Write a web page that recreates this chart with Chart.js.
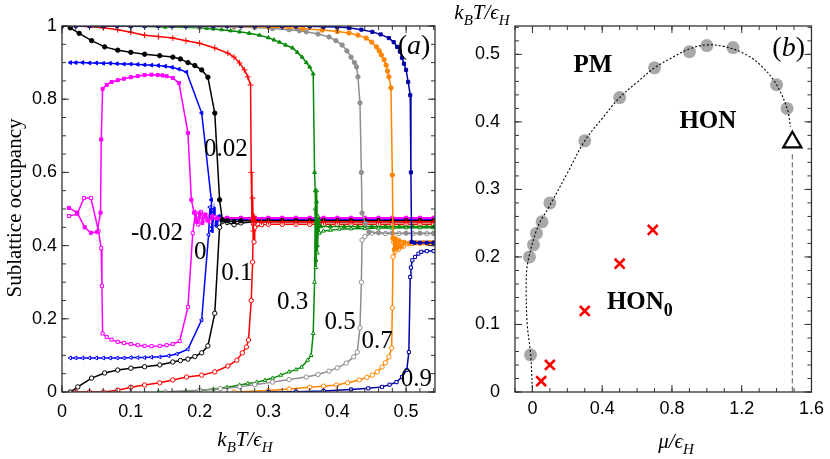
<!DOCTYPE html>
<html>
<head>
<meta charset="utf-8">
<script src="https://cdn.jsdelivr.net/npm/chart.js@4.4.0/dist/chart.umd.min.js"></script>
<style>
  body { margin: 0; background: #fff; }
  #wrap { position: relative; width: 830px; height: 459px; }
  canvas { position: absolute; top: 0; }
</style>
</head>
<body>
<div id="wrap">
  <canvas id="chartA" width="440" height="459" style="left:0"></canvas>
  <canvas id="chartB" width="390" height="459" style="left:440px"></canvas>
</div>
<script>
// ---- panel (a): sublattice occupancy vs k_BT/eps_H, pairs are [T, occupancy]
const magentaUp = [[0.01,0.503],[0.022,0.49],[0.033,0.45],[0.042,0.435],[0.051,0.437],[0.056,0.49],[0.057,0.69],[0.059,0.828],[0.065,0.839],[0.072,0.847],[0.081,0.852],[0.09,0.856],[0.1,0.86],[0.11,0.863],[0.12,0.866],[0.13,0.867],[0.139,0.866],[0.146,0.865],[0.152,0.863],[0.161,0.858],[0.17,0.844],[0.183,0.708],[0.188,0.525],[0.192,0.49],[0.196,0.465],[0.2,0.488],[0.204,0.462],[0.208,0.485],[0.212,0.468],[0.218,0.48],[0.225,0.474],[0.24,0.476],[0.26,0.476],[0.28,0.476],[0.3,0.476],[0.32,0.476],[0.34,0.476],[0.36,0.476],[0.38,0.476],[0.4,0.476],[0.42,0.476],[0.44,0.476],[0.46,0.476],[0.48,0.476],[0.5,0.476],[0.52,0.476],[0.54,0.476]];
const magentaLow = [[0.01,0.481],[0.022,0.486],[0.032,0.53],[0.042,0.53],[0.053,0.44],[0.057,0.393],[0.058,0.29],[0.059,0.16],[0.065,0.15],[0.072,0.143],[0.081,0.137],[0.09,0.134],[0.1,0.131],[0.11,0.128],[0.12,0.126],[0.13,0.125],[0.142,0.126],[0.152,0.128],[0.161,0.131],[0.171,0.139],[0.183,0.232],[0.19,0.434],[0.194,0.49],[0.198,0.458],[0.202,0.492],[0.206,0.47],[0.21,0.482],[0.215,0.466],[0.222,0.478],[0.24,0.474],[0.26,0.474],[0.28,0.474],[0.3,0.474],[0.32,0.474],[0.34,0.474],[0.36,0.474],[0.38,0.474],[0.4,0.474],[0.42,0.474],[0.44,0.474],[0.46,0.474],[0.48,0.474],[0.5,0.474],[0.52,0.474],[0.54,0.474]];

const blueUp = [[0.012,0.9],[0.02,0.9],[0.03,0.9],[0.04,0.899],[0.05,0.899],[0.06,0.898],[0.07,0.898],[0.08,0.897],[0.09,0.896],[0.1,0.896],[0.11,0.895],[0.12,0.894],[0.13,0.893],[0.14,0.892],[0.15,0.89],[0.16,0.887],[0.17,0.882],[0.181,0.874],[0.203,0.762],[0.217,0.525],[0.218,0.44],[0.221,0.5],[0.224,0.455],[0.228,0.48],[0.232,0.47],[0.24,0.473],[0.26,0.473],[0.28,0.473],[0.3,0.473],[0.32,0.473],[0.34,0.473],[0.36,0.473],[0.38,0.473],[0.4,0.473],[0.42,0.473],[0.44,0.473],[0.46,0.473],[0.48,0.473],[0.5,0.473],[0.52,0.473],[0.54,0.473]];
const blueLow = [[0.012,0.093],[0.02,0.093],[0.03,0.093],[0.04,0.093],[0.05,0.093],[0.06,0.093],[0.07,0.093],[0.08,0.093],[0.09,0.093],[0.1,0.094],[0.11,0.094],[0.12,0.094],[0.13,0.095],[0.142,0.096],[0.155,0.099],[0.167,0.104],[0.183,0.117],[0.203,0.197],[0.213,0.43],[0.215,0.505],[0.218,0.45],[0.221,0.492],[0.225,0.462],[0.229,0.478],[0.235,0.47],[0.24,0.472],[0.26,0.472],[0.28,0.472],[0.3,0.472],[0.32,0.472],[0.34,0.472],[0.36,0.472],[0.38,0.472],[0.4,0.472],[0.42,0.472],[0.44,0.472],[0.46,0.472],[0.48,0.472],[0.5,0.472],[0.52,0.472],[0.54,0.472]];

const blackUp = [[0.012,0.995],[0.025,0.98],[0.043,0.96],[0.062,0.943],[0.081,0.934],[0.1,0.928],[0.12,0.923],[0.142,0.919],[0.161,0.915],[0.172,0.91],[0.183,0.9],[0.193,0.892],[0.203,0.88],[0.212,0.86],[0.222,0.762],[0.229,0.525],[0.233,0.47],[0.24,0.468],[0.25,0.466],[0.26,0.468],[0.28,0.468],[0.3,0.468],[0.32,0.468],[0.34,0.468],[0.36,0.468],[0.38,0.468],[0.4,0.468],[0.42,0.468],[0.44,0.468],[0.46,0.468],[0.48,0.468],[0.5,0.468],[0.52,0.468],[0.54,0.468]];
const blackLow = [[0.012,0],[0.023,0.014],[0.043,0.038],[0.062,0.052],[0.081,0.06],[0.1,0.065],[0.12,0.069],[0.142,0.074],[0.161,0.082],[0.172,0.086],[0.183,0.09],[0.193,0.097],[0.203,0.107],[0.212,0.126],[0.222,0.215],[0.229,0.45],[0.233,0.466],[0.24,0.463],[0.25,0.457],[0.26,0.462],[0.28,0.465],[0.3,0.465],[0.32,0.465],[0.34,0.465],[0.36,0.465],[0.38,0.465],[0.4,0.465],[0.42,0.465],[0.44,0.465],[0.46,0.465],[0.48,0.465],[0.5,0.465],[0.52,0.465],[0.54,0.465]];

const redUp = [[0,1],[0.02,1],[0.04,0.998],[0.06,0.995],[0.081,0.99],[0.1,0.983],[0.12,0.975],[0.14,0.971],[0.161,0.967],[0.18,0.96],[0.2,0.953],[0.222,0.94],[0.241,0.926],[0.25,0.915],[0.258,0.899],[0.265,0.88],[0.27,0.861],[0.274,0.839],[0.275,0.6],[0.276,0.47],[0.277,0.53],[0.278,0.44],[0.279,0.48],[0.282,0.465],[0.29,0.465],[0.3,0.465],[0.32,0.465],[0.34,0.465],[0.36,0.465],[0.38,0.465],[0.4,0.465],[0.42,0.465],[0.44,0.465],[0.46,0.465],[0.48,0.465],[0.5,0.465],[0.52,0.465],[0.54,0.465]];
const redLow = [[0.02,0],[0.04,0],[0.06,0],[0.081,0.005],[0.1,0.013],[0.12,0.019],[0.142,0.025],[0.161,0.033],[0.181,0.041],[0.203,0.046],[0.222,0.055],[0.241,0.071],[0.254,0.087],[0.262,0.107],[0.268,0.123],[0.271,0.142],[0.275,0.25],[0.277,0.355],[0.278,0.46],[0.279,0.41],[0.28,0.45],[0.29,0.457],[0.3,0.458],[0.32,0.458],[0.34,0.458],[0.36,0.458],[0.38,0.458],[0.4,0.458],[0.42,0.458],[0.44,0.458],[0.46,0.458],[0.48,0.458],[0.5,0.458],[0.52,0.458],[0.54,0.458]];

const greenUp = [[0,1],[0.05,1],[0.1,0.999],[0.15,0.997],[0.2,0.995],[0.21,0.994],[0.22,0.992],[0.232,0.99],[0.245,0.987],[0.258,0.984],[0.272,0.98],[0.287,0.975],[0.3,0.968],[0.308,0.962],[0.316,0.956],[0.325,0.948],[0.335,0.94],[0.342,0.928],[0.349,0.915],[0.355,0.9],[0.36,0.888],[0.365,0.869],[0.367,0.6],[0.368,0.55],[0.369,0.36],[0.37,0.52],[0.371,0.4],[0.373,0.47],[0.376,0.452],[0.39,0.452],[0.41,0.452],[0.43,0.452],[0.45,0.452],[0.47,0.452],[0.49,0.452],[0.51,0.452],[0.53,0.452],[0.54,0.452]];
const greenLow = [[0.14,0],[0.18,0.002],[0.2,0.004],[0.22,0.008],[0.24,0.013],[0.258,0.019],[0.27,0.023],[0.283,0.027],[0.295,0.032],[0.306,0.038],[0.318,0.046],[0.33,0.055],[0.34,0.061],[0.348,0.068],[0.357,0.087],[0.362,0.1],[0.365,0.16],[0.367,0.3],[0.368,0.5],[0.369,0.34],[0.37,0.55],[0.371,0.38],[0.372,0.48],[0.374,0.434],[0.38,0.44],[0.39,0.442],[0.403,0.445],[0.42,0.446],[0.44,0.447],[0.46,0.448],[0.48,0.448],[0.5,0.449],[0.52,0.449],[0.54,0.449]];

const grayUp = [[0,1],[0.1,1],[0.2,0.998],[0.25,0.997],[0.28,0.996],[0.306,0.993],[0.33,0.99],[0.345,0.987],[0.355,0.984],[0.372,0.978],[0.388,0.97],[0.398,0.96],[0.407,0.948],[0.414,0.932],[0.42,0.915],[0.425,0.9],[0.428,0.888],[0.43,0.861],[0.433,0.79],[0.435,0.6],[0.436,0.489],[0.441,0.46],[0.446,0.437],[0.46,0.435],[0.48,0.434],[0.5,0.434],[0.52,0.434],[0.54,0.434]];
const grayLow = [[0.15,0],[0.2,0.005],[0.23,0.009],[0.258,0.014],[0.28,0.02],[0.306,0.027],[0.33,0.034],[0.355,0.041],[0.372,0.048],[0.388,0.057],[0.4,0.066],[0.413,0.079],[0.424,0.096],[0.429,0.109],[0.433,0.175],[0.435,0.3],[0.436,0.415],[0.44,0.425],[0.45,0.434],[0.47,0.433],[0.49,0.433],[0.51,0.433],[0.53,0.433],[0.54,0.433]];

const orangeUp = [[0,1],[0.2,1],[0.3,0.997],[0.35,0.993],[0.378,0.989],[0.4,0.985],[0.417,0.981],[0.43,0.975],[0.442,0.967],[0.45,0.956],[0.457,0.943],[0.461,0.932],[0.464,0.921],[0.468,0.908],[0.471,0.893],[0.473,0.877],[0.475,0.861],[0.478,0.831],[0.48,0.593],[0.481,0.42],[0.483,0.39],[0.485,0.418],[0.487,0.393],[0.49,0.413],[0.493,0.398],[0.497,0.409],[0.505,0.406],[0.515,0.408],[0.525,0.408],[0.535,0.408],[0.54,0.408]];
const orangeLow = [[0.25,0],[0.3,0.004],[0.33,0.008],[0.36,0.013],[0.38,0.016],[0.399,0.019],[0.415,0.025],[0.432,0.033],[0.443,0.04],[0.451,0.046],[0.458,0.055],[0.465,0.068],[0.47,0.08],[0.475,0.096],[0.479,0.12],[0.48,0.23],[0.481,0.369],[0.482,0.41],[0.484,0.383],[0.486,0.412],[0.489,0.39],[0.492,0.408],[0.496,0.398],[0.502,0.405],[0.51,0.406],[0.52,0.406],[0.53,0.406],[0.54,0.406]];

const navyUp = [[0,1],[0.02,1],[0.04,1],[0.06,1],[0.08,1],[0.1,1],[0.12,1],[0.14,1],[0.16,1],[0.18,1],[0.2,1],[0.22,1],[0.24,1],[0.26,1],[0.28,1],[0.3,1],[0.32,0.999],[0.34,0.999],[0.36,0.999],[0.38,0.998],[0.4,0.997],[0.417,0.995],[0.435,0.99],[0.451,0.984],[0.463,0.977],[0.475,0.967],[0.482,0.956],[0.487,0.943],[0.491,0.93],[0.494,0.913],[0.497,0.897],[0.5,0.88],[0.503,0.847],[0.506,0.811],[0.507,0.6],[0.508,0.41],[0.512,0.408],[0.52,0.408],[0.53,0.408],[0.54,0.408]];
const navyLow = [[0.3,0],[0.34,0.001],[0.38,0.003],[0.42,0.007],[0.445,0.01],[0.465,0.014],[0.476,0.02],[0.486,0.027],[0.494,0.041],[0.501,0.06],[0.504,0.109],[0.506,0.314],[0.507,0.34],[0.509,0.36],[0.513,0.369],[0.518,0.378],[0.522,0.383],[0.53,0.385],[0.54,0.385]];

const xTicksA = [0, 0.1, 0.2, 0.3, 0.4, 0.5];
const yTicksA = [0, 0.2, 0.4, 0.6, 0.8, 1];
const curveLabelsA = [
  { text: '0.02', x: 0.238, y: 0.664 },
  { text: '-0.02', x: 0.138, y: 0.434 },
  { text: '0', x: 0.201, y: 0.38 },
  { text: '0.1', x: 0.254, y: 0.325 },
  { text: '0.3', x: 0.335, y: 0.246 },
  { text: '0.5', x: 0.404, y: 0.191 },
  { text: '0.7', x: 0.458, y: 0.139 },
  { text: '0.9', x: 0.515, y: 0.033 }
];

// ---- panel (b): phase diagram, mu/eps_H vs k_BT/eps_H
const boundaryMu = [0, -0.01, -0.03, -0.036, -0.033, -0.02, 0.017, 0.05, 0.086, 0.2, 0.3, 0.406, 0.5, 0.606, 0.7, 0.806, 0.9, 1.0, 1.11, 1.23, 1.32, 1.4, 1.46, 1.48];
const boundaryT = [0, 0.055, 0.1, 0.15, 0.18, 0.2, 0.235, 0.255, 0.27, 0.324, 0.372, 0.407, 0.436, 0.46, 0.48, 0.496, 0.508, 0.514, 0.511, 0.499, 0.481, 0.455, 0.42, 0.393];
const circleMu = [-0.011, -0.017, 0.006, 0.023, 0.055, 0.1, 0.3, 0.5, 0.7, 0.9, 1.0, 1.15, 1.4, 1.46];
const circleT = [0.055, 0.2, 0.218, 0.235, 0.252, 0.28, 0.372, 0.436, 0.48, 0.504, 0.513, 0.51, 0.455, 0.42];
const crossMu = [0.05, 0.1, 0.3, 0.5, 0.69];
const crossT = [0.016, 0.04, 0.12, 0.19, 0.24];
const triangleMu = [1.49];
const triangleT = [0.37];
const verticalMu = [1.49, 1.49];
const verticalT = [0.352, 0];
const xTicksB = [0, 0.4, 0.8, 1.2, 1.6];
const yTicksB = [0, 0.1, 0.2, 0.3, 0.4, 0.5];
const phaseLabelsB = [
  { text: 'PM', x: 0.347, y: 0.483 },
  { text: 'HON', x: 1.006, y: 0.4 },
  { text: 'HON', sub: '0', x: 0.616, y: 0.133 }
];

const SERIF = '"Liberation Serif", "DejaVu Serif", serif';
const SANS = '"Liberation Sans", Arial, sans-serif';

const toXY = (pairs) => pairs.map(([x, y]) => ({ x, y }));
const zipXY = (xs, ys) => xs.map((x, i) => ({ x, y: ys[i] }));

function branch(pairs, color, style, filled, extra) {
  return Object.assign({
    data: toXY(pairs),
    showLine: true,
    borderColor: color,
    backgroundColor: color,
    borderWidth: 1.5,
    pointStyle: style,
    pointRadius: 2.2,
    pointBorderWidth: 1,
    pointBorderColor: color,
    pointBackgroundColor: filled ? color : '#ffffff',
    tension: 0
  }, extra || {});
}

// inward ticks on all four sides plus the frame
function frameTicks(cfg) {
  return {
    id: 'frameTicks',
    afterDraw(chart) {
      const { ctx, chartArea: a, scales: { x, y } } = chart;
      ctx.save();
      ctx.strokeStyle = '#333';
      ctx.lineWidth = 1.3;
      ctx.strokeRect(a.left, a.top, a.right - a.left, a.bottom - a.top);
      ctx.lineWidth = 1;
      const mark = (px, horiz, len) => {
        ctx.beginPath();
        if (horiz) {
          ctx.moveTo(px, a.bottom); ctx.lineTo(px, a.bottom - len);
          ctx.moveTo(px, a.top); ctx.lineTo(px, a.top + len);
        } else {
          ctx.moveTo(a.left, px); ctx.lineTo(a.left + len, px);
          ctx.moveTo(a.right, px); ctx.lineTo(a.right - len, px);
        }
        ctx.stroke();
      };
      for (let v = cfg.xMinorStart; v <= x.max + 1e-9; v += cfg.xMinor) mark(x.getPixelForValue(v), true, 4);
      for (let v = cfg.yMinorStart; v <= y.max + 1e-9; v += cfg.yMinor) mark(y.getPixelForValue(v), false, 4);
      cfg.xMajor.forEach(v => mark(x.getPixelForValue(v), true, 7));
      cfg.yMajor.forEach(v => mark(y.getPixelForValue(v), false, 7));
      ctx.restore();
    }
  };
}

// italic math text made of pieces, pieces marked 's' are subscripts
function drawMath(ctx, parts, cx, cy, size) {
  const big = 'italic ' + size + 'px ' + SERIF;
  const small = 'italic ' + Math.round(size * 0.7) + 'px ' + SERIF;
  let w = 0;
  parts.forEach(([t, k]) => { ctx.font = k === 's' ? small : big; w += ctx.measureText(t).width; });
  let x = cx - w / 2;
  ctx.textBaseline = 'alphabetic';
  ctx.textAlign = 'left';
  parts.forEach(([t, k]) => {
    ctx.font = k === 's' ? small : big;
    ctx.fillText(t, x, cy + (k === 's' ? size * 0.28 : 0));
    x += ctx.measureText(t).width;
  });
}

function drawTag(ctx, letter, cx, cy) {
  ctx.font = '28px ' + SERIF;
  const w1 = ctx.measureText('(').width;
  ctx.font = 'italic 28px ' + SERIF;
  const w2 = ctx.measureText(letter).width;
  ctx.font = '28px ' + SERIF;
  const w3 = ctx.measureText(')').width;
  let px = cx - (w1 + w2 + w3) / 2;
  ctx.textAlign = 'left';
  ctx.textBaseline = 'middle';
  ctx.fillText('(', px, cy); px += w1;
  ctx.font = 'italic 28px ' + SERIF; ctx.fillText(letter, px, cy); px += w2;
  ctx.font = '28px ' + SERIF; ctx.fillText(')', px, cy);
}

const textA = {
  id: 'textA',
  afterDraw(chart) {
    const { ctx, scales: { x, y } } = chart;
    ctx.save();
    ctx.fillStyle = '#000';
    ctx.font = '25px ' + SERIF;
    ctx.textAlign = 'center';
    ctx.textBaseline = 'middle';
    curveLabelsA.forEach(l => ctx.fillText(l.text, x.getPixelForValue(l.x), y.getPixelForValue(l.y)));
    drawTag(ctx, 'a', x.getPixelForValue(0.5116), y.getPixelForValue(0.943));
    // axis titles
    drawMath(ctx, [['k', 'i'], ['B', 's'], ['T/ϵ', 'i'], ['H', 's']], 245, 446, 21);
    ctx.save();
    ctx.translate(15, 208);
    ctx.rotate(-Math.PI / 2);
    ctx.font = '21px ' + SERIF;
    ctx.textAlign = 'center';
    ctx.textBaseline = 'middle';
    ctx.fillText('Sublattice occupancy', 0, 0);
    ctx.restore();
    ctx.restore();
  }
};

const textB = {
  id: 'textB',
  afterDraw(chart) {
    const { ctx, scales: { x, y } } = chart;
    ctx.save();
    ctx.fillStyle = '#000';
    ctx.textBaseline = 'middle';
    phaseLabelsB.forEach(l => {
      ctx.font = 'bold 25px ' + SERIF;
      const px = x.getPixelForValue(l.x), py = y.getPixelForValue(l.y);
      const w = ctx.measureText(l.text).width;
      ctx.textAlign = 'left';
      let sw = 0;
      if (l.sub) { ctx.font = 'bold 18px ' + SERIF; sw = ctx.measureText(l.sub).width; }
      ctx.font = 'bold 25px ' + SERIF;
      ctx.fillText(l.text, px - (w + sw) / 2, py);
      if (l.sub) {
        ctx.font = 'bold 18px ' + SERIF;
        ctx.fillText(l.sub, px - (w + sw) / 2 + w, py + 9);
      }
    });
    drawTag(ctx, 'b', x.getPixelForValue(1.469), y.getPixelForValue(0.508));
    drawMath(ctx, [['μ/ϵ', 'i'], ['H', 's']], 236, 448, 21);
    drawMath(ctx, [['k', 'i'], ['B', 's'], ['T/ϵ', 'i'], ['H', 's']], 42, 19, 21);
    ctx.restore();
  }
};

const tickFont = { family: SANS, size: 18 };

// drawn in reverse order, so the first dataset ends up on top
new Chart(document.getElementById('chartA'), {
  type: 'scatter',
  data: {
    datasets: [
      branch(navyUp, '#0000a8', 'rect', true),
      branch(navyLow, '#0000a8', 'rect', false),
      branch(orangeUp, '#ff8400', 'circle', true),
      branch(orangeLow, '#ff8400', 'circle', false),
      branch(grayUp, '#8f8f8f', 'circle', true),
      branch(grayLow, '#8f8f8f', 'circle', false),
      branch(greenUp, '#0a8a0a', 'triangle', true),
      branch(greenLow, '#0a8a0a', 'triangle', false),
      branch(redUp, '#ff0000', 'cross', true, { pointRadius: 3 }),
      branch(redLow, '#ff0000', 'circle', false),
      branch(blackUp, '#000000', 'circle', true),
      branch(blackLow, '#000000', 'circle', false),
      branch(magentaUp, '#ff00ff', 'rect', true),
      branch(magentaLow, '#ff00ff', 'rect', false),
      branch(blueUp, '#0000ff', 'triangle', true, { pointRotation: -90 }),
      branch(blueLow, '#0000ff', 'triangle', false, { pointRotation: -90 })
    ]
  },
  options: {
    responsive: false,
    animation: false,
    layout: { padding: { left: 0, right: 4, top: 26, bottom: 0 } },
    plugins: { legend: { display: false }, tooltip: { enabled: false } },
    scales: {
      x: {
        type: 'linear', min: 0, max: 0.542,
        grid: { display: false, drawTicks: false }, border: { display: false },
        afterFit: (s) => { s.height = 67; },
        afterBuildTicks: (s) => { s.ticks = xTicksA.map(v => ({ value: v })); },
        ticks: { font: tickFont, color: '#000', padding: 9, maxRotation: 0, callback: (v) => String(v) }
      },
      y: {
        type: 'linear', min: 0, max: 1,
        grid: { display: false, drawTicks: false }, border: { display: false },
        afterFit: (s) => { s.width = 62; },
        afterBuildTicks: (s) => { s.ticks = yTicksA.map(v => ({ value: v })); },
        ticks: { font: tickFont, color: '#000', padding: 5, callback: (v) => String(v) }
      }
    }
  },
  plugins: [frameTicks({ xMinorStart: 0, xMinor: 0.02, yMinorStart: 0, yMinor: 0.05, xMajor: xTicksA, yMajor: yTicksA }), textA]
});

new Chart(document.getElementById('chartB'), {
  type: 'scatter',
  data: {
    datasets: [
      {
        data: zipXY(boundaryMu, boundaryT), showLine: true, borderColor: '#000', borderWidth: 1.1,
        borderDash: [2, 2], pointRadius: 0, tension: 0.35
      },
      {
        data: zipXY(verticalMu, verticalT), showLine: true, borderColor: '#555', borderWidth: 1,
        borderDash: [5, 3], pointRadius: 0
      },
      {
        data: zipXY(triangleMu, triangleT), pointStyle: 'triangle', pointRadius: 10.5,
        pointBorderColor: '#000', pointBackgroundColor: '#fff', pointBorderWidth: 2.2
      },
      {
        data: zipXY(crossMu, crossT), pointStyle: 'crossRot', pointRadius: 7,
        pointBorderColor: '#ff0000', pointBorderWidth: 2.6
      },
      {
        data: zipXY(circleMu, circleT), pointStyle: 'circle', pointRadius: 6.5,
        pointBorderColor: '#a8a8a8', pointBackgroundColor: '#a8a8a8', pointBorderWidth: 0
      }
    ]
  },
  options: {
    responsive: false,
    animation: false,
    layout: { padding: { left: 0, right: 18, top: 26, bottom: 0 } },
    plugins: { legend: { display: false }, tooltip: { enabled: false } },
    scales: {
      x: {
        type: 'linear', min: -0.1, max: 1.6,
        grid: { display: false, drawTicks: false }, border: { display: false },
        afterFit: (s) => { s.height = 67; },
        afterBuildTicks: (s) => { s.ticks = xTicksB.map(v => ({ value: v })); },
        ticks: { font: tickFont, color: '#000', padding: 6, maxRotation: 0, callback: (v) => String(v) }
      },
      y: {
        type: 'linear', min: 0, max: 0.542,
        grid: { display: false, drawTicks: false }, border: { display: false },
        afterFit: (s) => { s.width = 75; },
        afterBuildTicks: (s) => { s.ticks = yTicksB.map(v => ({ value: v })); },
        ticks: { font: tickFont, color: '#000', padding: 15, callback: (v) => String(v) }
      }
    }
  },
  plugins: [frameTicks({ xMinorStart: -0.1, xMinor: 0.1, yMinorStart: 0, yMinor: 0.02, xMajor: xTicksB, yMajor: yTicksB }), textB]
});
</script>
</body>
</html>
